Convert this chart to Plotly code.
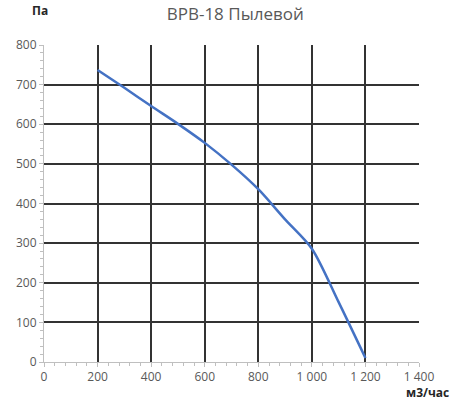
import plotly.graph_objects as go

flow = [200, 300, 400, 500, 600, 700, 800, 900, 1000, 1100, 1200]
pressure = [737, 692, 646, 601, 553, 498, 436, 360, 286, 151, 10]

x_ticks = [0, 200, 400, 600, 800, 1000, 1200, 1400]
x_labels = ["0", "200", "400", "600", "800", "1 000", "1 200", "1 400"]
y_ticks = [0, 100, 200, 300, 400, 500, 600, 700, 800]

fig = go.Figure()
fig.add_trace(go.Scatter(x=flow, y=pressure, mode="lines",
                         line=dict(color="#4472C4", width=2.5, shape="spline", smoothing=0.8),
                         showlegend=False))

font = dict(family="Open Sans, Liberation Sans, sans-serif", size=12, color="#595959")
fig.update_layout(
    width=450, height=400,
    margin=dict(l=44, r=31, t=45, b=38),
    paper_bgcolor="white", plot_bgcolor="white",
    font=font,
    title=dict(text="ВРВ-18 Пылевой", xref="paper", x=0.51, xanchor="center", y=0.965, yanchor="middle",
               font=dict(family="Open Sans, sans-serif", size=17, color="#595959")),
)
fig.update_xaxes(range=[0, 1400], tickvals=x_ticks, ticktext=x_labels,
                 showgrid=True, gridcolor="#333333", gridwidth=2,
                 zeroline=False, showline=True, linecolor="#BFBFBF", linewidth=1,
                 ticks="outside", ticklen=4, tickcolor="#BFBFBF",
                 minor=dict(dtick=40, ticks="outside", ticklen=3, tickcolor="#BFBFBF", showgrid=False),
                 tickfont=font, fixedrange=True)
fig.update_yaxes(range=[0, 800], tickvals=y_ticks,
                 showgrid=True, gridcolor="#333333", gridwidth=2,
                 zeroline=False, showline=True, linecolor="#BFBFBF", linewidth=1,
                 ticks="outside", ticklen=4, tickcolor="#BFBFBF",
                 minor=dict(dtick=20, ticks="outside", ticklen=3, tickcolor="#BFBFBF", showgrid=False),
                 tickfont=font, fixedrange=True)

fig.add_annotation(text="<b>Па</b>", xref="paper", yref="paper", x=-0.01, y=1.0,
                   yshift=35, xanchor="center", yanchor="middle", showarrow=False,
                   font=dict(family="Open Sans, sans-serif", size=12, color="#262626"))
fig.add_annotation(text="<b>м3/час</b>", xref="paper", yref="paper", x=1.0, y=0,
                   yshift=-30, xshift=8, xanchor="center", yanchor="middle", showarrow=False,
                   font=dict(family="Open Sans, sans-serif", size=12, color="#262626"))

fig.write_html("out.html")
